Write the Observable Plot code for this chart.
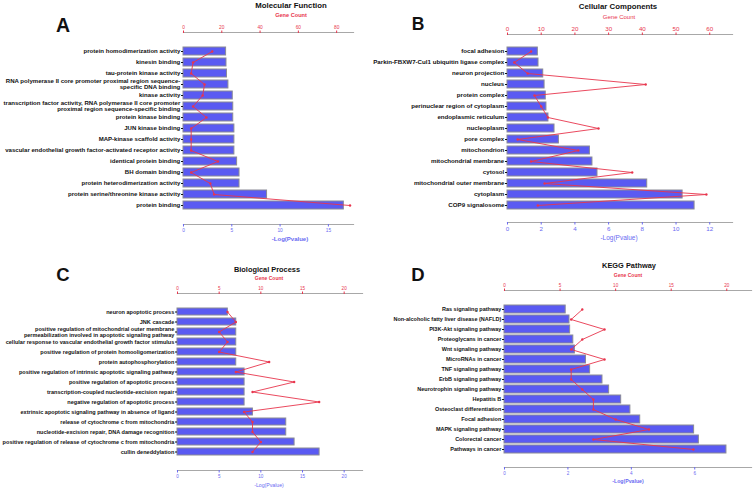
<!DOCTYPE html>
<html>
<head>
<meta charset="utf-8">
<script src="https://cdn.jsdelivr.net/npm/d3@7"></script>
<script src="https://cdn.jsdelivr.net/npm/@observablehq/plot@0.6"></script>
<style>
  html, body { margin: 0; padding: 0; background: #fff; }
  #root { position: relative; width: 753px; height: 489px; overflow: hidden; font-family: "Liberation Sans", Arial, sans-serif; }
  .pn { position: absolute; }
  .pn svg { overflow: visible; }
  .lbl { position: absolute; white-space: nowrap; line-height: 1; transform: translateX(-50%); }
</style>
</head>
<body>
<div id="root"></div>
<script>
// ---------- Data ----------
const mfTerms = ["protein homodimerization activity","kinesin binding","tau-protein kinase activity","RNA polymerase II core promoter proximal region sequence-\nspecific DNA binding","kinase activity","transcription factor activity, RNA polymerase II core promoter\nproximal region sequence-specific binding","protein kinase binding","JUN kinase binding","MAP-kinase scaffold activity","vascular endothelial growth factor-activated receptor activity","identical protein binding","BH domain binding","protein heterodimerization activity","protein serine/threonine kinase activity","protein binding"];
const mfLogP = [4.41,4.45,4.5,4.65,5.1,5.15,5.15,5.27,5.27,5.27,5.55,5.8,5.8,8.65,16.6];
const mfCount = [15,5,4,11,10,5,12,4,4,4,18,4,14,16,87];

const ccTerms = ["focal adhesion","Parkin-FBXW7-Cul1 ubiquitin ligase complex","neuron projection","nucleus","protein complex","perinuclear region of cytoplasm","endoplasmic reticulum","nucleoplasm","pore complex","mitochondrion","mitochondrial membrane","cytosol","mitochondrial outer membrane","cytoplasm","COP9 signalosome"];
const ccLogP = [1.8,1.84,2.12,2.2,2.27,2.31,2.43,2.79,3.05,4.89,5.04,5.34,8.29,10.39,11.1];
const ccCount = [7,2,6,41,8,10,12,27,3,21,7,37,11,59,9];

const bpTerms = ["neuron apoptotic process","JNK cascade","positive regulation of mitochondrial outer membrane\npermeabilization involved in apoptotic signaling pathway","cellular response to vascular endothelial growth factor stimulus","positive regulation of protein homooligomerization","protein autophosphorylation","positive regulation of intrinsic apoptotic signaling pathway","positive regulation of apoptotic process","transcription-coupled nucleotide-excision repair","negative regulation of apoptotic process","extrinsic apoptotic signaling pathway in absence of ligand","release of cytochrome c from mitochondria","nucleotide-excision repair, DNA damage recognition","positive regulation of release of cytochrome c from mitochondria","cullin deneddylation"];
const bpLogP = [6.04,7.05,7.05,7.05,7.05,7.05,8.05,8.05,8.05,8.05,9.05,13.05,13.05,14.05,17.05];
const bpCount = [6,7,5,6,5,11,7,14,9,17,8,9,9,10,9];

const keggTerms = ["Ras signaling pathway","Non-alcoholic fatty liver disease (NAFLD)","PI3K-Akt signaling pathway","Proteoglycans in cancer","Wnt signaling pathway","MicroRNAs in cancer","TNF signaling pathway","ErbB signaling pathway","Neurotrophin signaling pathway","Hepatitis B","Osteoclast differentiation","Focal adhesion","MAPK signaling pathway","Colorectal cancer","Pathways in cancer"];
const keggLogP = [1.93,2.05,2.07,2.17,2.22,2.57,2.7,3.09,3.3,3.68,3.97,4.28,5.98,6.13,7.0];
const keggCount = [7,6,9,7,6,9,6,6,7,8,8,10,13,8,17];

const mfCountTicks = [0,20,40,60,80], mfPTicks = [0,5,10,15];
const ccCountTicks = [0,10,20,30,40,50,60], ccPTicks = [0,2,4,6,8,10,12];
const bpCountTicks = [0,5,10,15,20], bpPTicks = [0,5,10,15,20];
const keggCountTicks = [0,5,10,15,20], keggPTicks = [0,2,4,6];

const panelTitles = ["Molecular Function","Cellular Components","Biological Process","KEGG Pathway"];
const panelLetters = ["A","B","C","D"];
const topAxisTitle = "Gene Count";
const bottomAxisTitle = "-Log(Pvalue)";

// ---------- Styles ----------
const RED = "#e8354d", BLUE = "#6a6af2", BAR = "#5a5af2", BARSTROKE = "#8a8a96", AXIS = "#a8a8a8";
const root = document.getElementById("root");

function panel(o) {
  const data = o.terms.map((t, i) => ({term: t, logp: o.logp[i], count: o.count[i]}));
  const r = o.ratio;
  const svg = Plot.plot({
    width: o.width, height: o.height,
    marginLeft: o.mL, marginRight: o.mR, marginTop: o.mT, marginBottom: o.mB,
    style: {fontFamily: "'Liberation Sans', Arial, sans-serif", background: "transparent", overflow: "visible"},
    x: {domain: [0, o.pMax]},
    y: {domain: o.terms, paddingInner: o.pi, paddingOuter: o.po},
    marks: [
      Plot.frame({anchor: "top", stroke: AXIS, strokeWidth: 1.2}),
      Plot.frame({anchor: "bottom", stroke: AXIS, strokeWidth: 1.2}),
      Plot.barX(data, {x: "logp", y: "term", fill: BAR, stroke: BARSTROKE, strokeWidth: 1}),
      Plot.line(data, {x: d => d.count * r, y: "term", stroke: RED, strokeWidth: 0.9}),
      Plot.dot(data, {x: d => d.count * r, y: "term", r: 1.2, fill: RED}),
      Plot.axisX(o.countTicks.map(c => c * r), {anchor: "top", tickFormat: d => String(Math.round(d / r)), color: RED, fontSize: o.tickFont, tickSize: 2.5, tickPadding: 1.5, label: null}),
      Plot.axisX(o.pTicks, {anchor: "bottom", tickFormat: d => String(d), color: BLUE, fontSize: o.tickFont, tickSize: 2.5, tickPadding: 2, label: null}),
      Plot.axisY({tickSize: 2, tickPadding: 1.2, fontSize: o.labelFont, fontWeight: "bold", color: "#111", label: null})
    ]
  });
  const wrap = document.createElement("div");
  wrap.className = "pn";
  wrap.style.left = o.left + "px";
  wrap.style.top = o.top + "px";
  wrap.appendChild(svg);
  root.appendChild(wrap);
}

function label(text, cx, baseline, size, weight, color) {
  const d = document.createElement("div");
  d.className = "lbl";
  d.textContent = text;
  d.style.left = cx + "px";
  d.style.top = (baseline - 0.85 * size) + "px";
  d.style.fontSize = size + "px";
  d.style.fontWeight = weight;
  d.style.color = color;
  root.appendChild(d);
}

panel({terms: mfTerms, logp: mfLogP, count: mfCount, left: 0, top: 0, width: 376, height: 245,
  mL: 183, mR: 23, mT: 32, mB: 21, pMax: 17.6, ratio: 0.1982, countTicks: mfCountTicks, pTicks: mfPTicks,
  pi: 0.28, po: 0.99, labelFont: 6.05, tickFont: 4.8});
panel({terms: ccTerms, logp: ccLogP, count: ccCount, left: 360, top: 0, width: 393, height: 245,
  mL: 147, mR: 21, mT: 34, mB: 23, pMax: 13.35, ratio: 0.2, countTicks: ccCountTicks, pTicks: ccPTicks,
  pi: 0.26, po: 1.0, labelFont: 6.15, tickFont: 6.2});
panel({terms: bpTerms, logp: bpLogP, count: bpCount, left: 0, top: 240, width: 376, height: 249,
  mL: 177, mR: 14, mT: 53, mB: 19, pMax: 22.2, ratio: 1, countTicks: bpCountTicks, pTicks: bpPTicks,
  pi: 0.28, po: 0.97, labelFont: 5.55, tickFont: 4.6});
panel({terms: keggTerms, logp: keggLogP, count: keggCount, left: 360, top: 240, width: 393, height: 249,
  mL: 144, mR: 2, mT: 50, mB: 22, pMax: 7.79, ratio: 0.3505, countTicks: keggCountTicks, pTicks: keggPTicks,
  pi: 0.22, po: 0.93, labelFont: 5.5, tickFont: 4.6});

// titles, axis titles, letters
label(panelTitles[0], 291, 8.3, 7.8, "bold", "#111");
label(topAxisTitle, 291, 18, 5.6, "bold", RED);
label(bottomAxisTitle, 290, 241, 6, "bold", BLUE);
label(panelLetters[0], 63, 32.3, 19.5, "bold", "#111");

label(panelTitles[1], 618, 10, 7.8, "bold", "#111");
label(topAxisTitle, 619, 19, 6, "normal", RED);
label(bottomAxisTitle, 619, 241, 6.5, "normal", BLUE);
label(panelLetters[1], 418, 30.7, 17.5, "bold", "#111");

label(panelTitles[2], 267, 272.3, 7.4, "bold", "#111");
label(topAxisTitle, 269, 280.5, 5, "bold", RED);
label(bottomAxisTitle, 269, 487, 5.2, "normal", BLUE);
label(panelLetters[2], 63, 281.7, 18.5, "bold", "#111");

label(panelTitles[3], 629, 268.3, 7.4, "bold", "#111");
label(topAxisTitle, 628, 277.5, 5, "bold", RED);
label(bottomAxisTitle, 628, 483, 5.2, "bold", BLUE);
label(panelLetters[3], 418, 281.7, 18.5, "bold", "#111");
</script>
</body>
</html>
